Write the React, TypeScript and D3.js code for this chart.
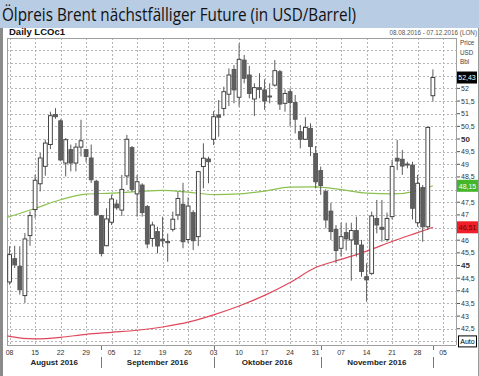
import React from "react";
import * as d3 from "d3";

const opens = [44.35,45.27,44.97,43.81,46.18,47.21,48.23,48.92,49.78,50.97,50.72,49.05,49.58,49.05,49.68,49.58,49.25,48.33,46.97,45.78,46.71,47.43,47.19,48.54,49.66,47.83,48.18,47.33,46.07,46.34,46.04,45.95,46.43,47.00,47.42,46.03,47.09,46.14,48.91,49.21,49.99,50.95,51.21,51.77,52.75,51.65,53.12,52.53,51.58,52.03,51.94,51.70,52.13,52.66,51.41,51.87,51.44,50.29,49.99,50.42,49.43,48.75,47.92,47.15,46.43,45.68,46.30,46.01,46.38,45.81,44.56,44.69,46.86,46.51,46.03,46.93,49.24,49.20,49.01,48.97,46.69,48.08,46.53,51.71];
const highs = [45.76,45.78,45.76,46.28,47.14,48.59,49.45,49.97,51.08,51.22,50.78,50.04,49.78,49.84,50.76,49.60,49.78,48.39,47.00,47.26,47.80,47.60,48.58,50.16,49.72,48.58,48.25,47.39,46.73,46.53,46.93,46.26,47.13,47.92,48.27,47.69,47.19,48.74,49.83,49.30,51.10,51.54,52.07,52.79,52.92,53.78,53.32,52.89,52.20,52.60,52.36,52.20,53.12,52.73,51.96,52.00,51.74,50.55,50.86,50.62,49.72,48.91,48.01,47.48,46.60,46.70,46.69,46.69,46.93,46.01,45.09,47.13,47.59,47.59,47.09,49.17,49.96,49.57,49.10,49.10,48.58,48.18,50.49,52.75];
const lows = [44.24,44.90,43.85,43.52,45.78,46.88,47.93,48.55,49.60,50.80,49.12,48.52,48.72,48.72,49.31,49.08,48.26,46.97,45.36,45.76,46.60,47.20,46.96,48.18,47.92,46.93,46.93,45.68,45.74,45.48,45.74,45.15,46.34,46.80,45.68,45.88,45.61,45.77,48.05,48.25,49.76,50.09,50.91,51.30,51.41,51.28,52.20,51.61,50.91,51.61,51.15,51.41,52.07,51.15,51.08,50.51,50.22,49.63,49.96,49.33,48.05,47.79,46.47,46.01,45.09,45.35,45.59,44.40,45.35,44.56,43.57,44.62,46.27,45.94,45.94,46.82,48.77,48.58,48.84,46.82,46.53,45.94,46.40,51.48];
const closes = [45.43,45.03,44.04,46.05,46.97,48.37,49.25,49.84,50.92,50.88,49.17,49.97,49.05,49.68,49.93,49.31,48.39,47.00,45.47,46.84,47.63,47.28,48.01,49.99,48.01,48.31,47.09,45.85,46.60,45.77,45.97,45.90,46.83,47.65,45.94,47.35,45.98,48.71,49.24,49.10,50.88,50.86,51.87,52.53,51.94,53.15,52.40,51.80,52.03,51.96,51.50,51.68,52.70,51.38,51.80,51.44,50.78,49.99,50.46,49.70,48.31,48.16,46.80,46.34,45.59,46.14,46.05,46.38,45.84,44.76,44.43,46.96,46.60,46.43,46.86,48.91,49.13,48.93,49.00,47.26,48.25,46.53,50.46,52.43];

// moving averages read at sampled trading-day indices
const maIdx = [-0.5,0,5,10,15,20,25,30,35,40,45,50,55,60,65,70,75,80,83];
const maGreen = [46.9,46.93,47.26,47.6,47.82,47.86,47.92,47.97,47.9,47.8,47.83,47.94,48.1,48.11,48.0,47.86,47.83,47.95,48.15];
const maRed = [42.22,42.2,42.1,42.16,42.28,42.36,42.44,42.57,42.76,43.05,43.4,43.82,44.33,44.92,45.24,45.57,45.95,46.3,46.51];

const weekTickIdx = [0,5,10,15,20,25,30,35,40,45,50,55,60,65,70,75,80,85];
const weekTickLabels = ["08","15","22","29","05","12","19","26","03","10","17","24","31","07","14","21","28","05"];
const monthLabels = ["August 2016","September 2016","Oktober 2016","November 2016"];
const monthStartIdx = [18,40,61,83];
const priceTicks = [42.5,43,43.5,44,44.5,45,45.5,46,47,47.5,48.5,49,49.5,50,50.5,51,51.5,52];
const gridPrices = [42,42.5,43,43.5,44,44.5,45,45.5,46,46.5,47,47.5,48,48.5,49,49.5,50,50.5,51,51.5,52,52.5,53,53.5];

const lastPrice = 52.43;
const greenLast = 48.15;
const redLast = 46.51;

const FONT = "'Liberation Sans', Arial, sans-serif";

export default function App() {
  const W = 479, H = 376;
  const plotL = 7, plotR = 456, plotT = 38, plotB = 345;
  const x = d3.scaleLinear().domain([0, 87]).range([9.6, 9.6 + 87 * 5.1]);
  const y = d3.scaleLinear().domain([42, 54]).range([341.4, 37.8]);
  const fmt = (v: number) => String(v).replace(".", ",");
  const fmt2 = (v: number) => v.toFixed(2).replace(".", ",");
  const bw = 3.8;

  const line = d3.line<number>()
    .x((_, i) => x(maIdx[i]))
    .y((d) => y(d))
    .curve(d3.curveMonotoneX);

  const monthBounds = [plotL, ...monthStartIdx.map((i) => x(i))];

  return (
    <svg width={W} height={H} style={{ position: "absolute", left: 0, top: 0, display: "block" }}>
      <rect x={0} y={0} width={W} height={H} fill="#ffffff" />
      {/* title bar */}
      <rect x={0} y={0} width={W} height={28} fill="#b8cce4" />
      <text x={2} y={20.5} fontFamily="'Open Sans', 'Noto Sans', sans-serif" fontSize={18.5} fill="#111"
        textLength={354} lengthAdjust="spacingAndGlyphs">Ölpreis Brent nächstfälliger Future (in USD/Barrel)</text>
      {/* panel borders */}
      <rect x={0} y={28} width={3} height={H - 28} fill="#8a8a8a" />
      <line x1={478.5} y1={28} x2={478.5} y2={H} stroke="#9a9a9a" />
      <text x={9} y={35} fontFamily={FONT} fontSize={9.5} fontWeight="bold" fill="#111">Daily LCOc1</text>
      <text x={477} y={35} textAnchor="end" fontFamily={FONT} fontSize={6.3} fill="#555">08.08.2016 - 07.12.2016 (LON)</text>

      {/* grid */}
      {gridPrices.map((p) => (
        <line key={"h" + p} x1={plotL} x2={plotR} y1={Math.round(y(p)) + 0.5} y2={Math.round(y(p)) + 0.5}
          stroke="#b5b5b5" strokeDasharray="2,2" />
      ))}
      {weekTickIdx.map((i) => (
        <line key={"v" + i} x1={Math.round(x(i)) + 0.5} x2={Math.round(x(i)) + 0.5} y1={plotT} y2={plotB}
          stroke="#b5b5b5" strokeDasharray="2,2" />
      ))}
      {/* frame */}
      <line x1={plotL} x2={plotR} y1={plotT + 0.5} y2={plotT + 0.5} stroke="#a0a0a0" />
      <line x1={plotL + 0.5} x2={plotL + 0.5} y1={plotT} y2={plotB} stroke="#a0a0a0" />
      <line x1={plotR + 0.5} x2={plotR + 0.5} y1={plotT} y2={plotB} stroke="#a0a0a0" />
      <line x1={plotL} x2={plotR} y1={plotB + 0.5} y2={plotB + 0.5} stroke="#a0a0a0" />

      {/* moving averages */}
      <path d={line(maGreen) || ""} fill="none" stroke="#8cc150" strokeWidth={1.2} />
      <path d={line(maRed) || ""} fill="none" stroke="#e0475a" strokeWidth={1.2} />

      {/* candles */}
      {opens.map((o, i) => {
        const c = closes[i];
        const up = c >= o;
        const cx = x(i);
        const top = y(Math.max(o, c));
        const bot = y(Math.min(o, c));
        const h = Math.max(1, bot - top);
        return (
          <g key={"c" + i}>
            <line x1={cx} x2={cx} y1={y(highs[i])} y2={y(lows[i])} stroke="#5a5a5a" strokeWidth={1} />
            <rect x={cx - bw / 2} y={top} width={bw} height={h}
              fill={up ? "#ffffff" : "#5f5f5f"} stroke={up ? "#333" : "#555"} strokeWidth={0.9} />
          </g>
        );
      })}

      {/* price axis labels */}
      {priceTicks.map((p) => (
        <g key={"t" + p}>
          <line x1={plotR + 1} x2={plotR + 4} y1={y(p)} y2={y(p)} stroke="#555" />
          <text x={461} y={y(p) + 2.5} fontFamily={FONT} fontSize={p % 5 === 0 ? 8 : 7}
            fontWeight={p % 5 === 0 ? "bold" : "normal"} fill="#333">{fmt(p)}</text>
        </g>
      ))}
      <text x={460} y={45} fontFamily={FONT} fontSize={6.3} fill="#444">Price</text>
      <text x={460} y={54.5} fontFamily={FONT} fontSize={6.3} fill="#444">USD</text>
      <text x={460} y={64} fontFamily={FONT} fontSize={6.3} fill="#444">Bbl</text>

      {/* value boxes */}
      <rect x={457} y={y(lastPrice) - 6} width={20} height={12} fill="#000" />
      <text x={467} y={y(lastPrice) + 2.7} textAnchor="middle" fontFamily={FONT} fontSize={7} fill="#fff">{fmt2(lastPrice)}</text>
      <rect x={457} y={y(greenLast) - 6} width={21} height={12} fill="#45b52a" />
      <text x={467.5} y={y(greenLast) + 2.7} textAnchor="middle" fontFamily={FONT} fontSize={7} fill="#fff">{fmt2(greenLast)}</text>
      <rect x={457} y={y(redLast) - 6} width={21} height={12} fill="#f01e28" />
      <text x={467.5} y={y(redLast) + 2.7} textAnchor="middle" fontFamily={FONT} fontSize={7} fill="#6a0000">{fmt2(redLast)}</text>
      <rect x={458.5} y={y(42) - 5.5} width={18} height={11} fill="#fff" stroke="#000" />
      <text x={467.5} y={y(42) + 2.7} textAnchor="middle" fontFamily={FONT} fontSize={7} fill="#000">Auto</text>

      {/* x axis labels */}
      {weekTickIdx.map((i, k) => (
        <text key={"xl" + i} x={x(i)} y={355} textAnchor="middle" fontFamily={FONT} fontSize={7} fill="#333">
          {weekTickLabels[k]}
        </text>
      ))}
      {monthStartIdx.map((i) => (
        <g key={"ms" + i}>
          <line x1={Math.round(x(i)) + 0.5} x2={Math.round(x(i)) + 0.5} y1={346} y2={350} stroke="#777" />
          <line x1={Math.round(x(i)) + 0.5} x2={Math.round(x(i)) + 0.5} y1={357} y2={368} stroke="#777" />
        </g>
      ))}
      {monthLabels.map((m, k) => (
        <text key={m} x={(monthBounds[k] + monthBounds[k + 1]) / 2} y={365} textAnchor="middle"
          fontFamily={FONT} fontSize={8} fontWeight="bold" fill="#222">{m}</text>
      ))}
    </svg>
  );
}
